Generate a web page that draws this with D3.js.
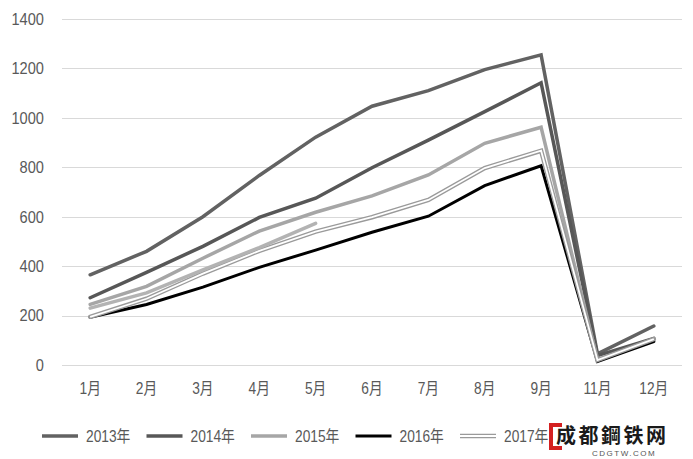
<!DOCTYPE html>
<html>
<head>
<meta charset="utf-8">
<script src="https://cdn.jsdelivr.net/npm/d3@7"></script>
<style>
html,body{margin:0;padding:0;background:#fff;}
svg{display:block;}
</style>
</head>
<body>
<svg id="chart" width="693" height="459"></svg>
<script>
const months = ["1月","2月","3月","4月","5月","6月","7月","8月","9月","11月","12月"];
const yTicks = [0,200,400,600,800,1000,1200,1400];
const seriesNames = ["2013年","2014年","2015年","2016年","2017年","2018年"];
const s2013 = [365, 460, 600, 767, 922, 1047, 1110, 1195, 1255, 45, 158];
const s2014 = [272, 375, 480, 597, 675, 798, 910, 1025, 1142, 38, 108];
const s2015 = [245, 318, 432, 542, 618, 684, 769, 897, 962, 20, 100];
const s2016 = [193, 245, 315, 395, 465, 537, 602, 726, 806, 14, 95];
const s2017 = [195, 268, 370, 462, 540, 598, 668, 797, 867, 20, 105];
const s2018 = [230, 292, 385, 475, 573];

const series = [
  {name: seriesNames[0], values: s2013, color: "#626262", width: 3.5},
  {name: seriesNames[1], values: s2014, color: "#575757", width: 3.5},
  {name: seriesNames[2], values: s2015, color: "#a6a6a6", width: 3.5},
  {name: seriesNames[3], values: s2016, color: "#000000", width: 3},
  {name: seriesNames[4], values: s2017, color: "#9a9a9a", width: 4.5, inner: "#ffffff", innerWidth: 1.8},
  {name: seriesNames[5], values: s2018, color: "#b3b3b3", width: 3.5, hiddenLegend: true}
];

const svg = d3.select("#chart");
const x = d3.scalePoint().domain(months).range([62, 682]).padding(0.5);
const y = d3.scaleLinear().domain([0, 1400]).range([365, 19]);

const FONT = "'Liberation Sans','Noto Sans CJK SC',sans-serif";
function label(g, tx, ty, str, anchor, size, fill) {
  return g.append("text")
    .attr("transform", `translate(${tx},${ty}) scale(0.86,1)`)
    .attr("text-anchor", anchor)
    .attr("dominant-baseline", "central")
    .attr("font-family", FONT)
    .attr("font-size", size)
    .attr("fill", fill)
    .text(str);
}

// gridlines
const grid = svg.append("g");
grid.selectAll("line").data(yTicks).join("line")
  .attr("x1", 62).attr("x2", 682)
  .attr("y1", d => Math.round(y(d)) + 0.5).attr("y2", d => Math.round(y(d)) + 0.5)
  .attr("stroke", "#d9d9d9").attr("stroke-width", 1);

// y labels
const yl = svg.append("g");
yTicks.forEach(t => label(yl, 44, y(t), String(t), "end", 17, "#595959"));

// x labels
const xl = svg.append("g");
months.forEach(m => label(xl, x(m), 388, m, "middle", 16, "#595959"));

// lines
const line = d3.line().x((d, i) => x(months[i])).y(d => y(d));
const lg = svg.append("g").attr("fill", "none");
series.forEach(s => {
  lg.append("path").attr("d", line(s.values))
    .attr("stroke", s.color).attr("stroke-width", s.width)
    .attr("stroke-linejoin", "miter").attr("stroke-linecap", "round");
  if (s.inner) {
    lg.append("path").attr("d", line(s.values))
      .attr("stroke", s.inner).attr("stroke-width", s.innerWidth)
      .attr("stroke-linejoin", "miter");
  }
});

// legend (the 2018 entry is hidden behind the watermark in the reference)
const leg = svg.append("g");
const legX0 = 42, legStep = 104.5, legY = 436;
series.filter(s => !s.hiddenLegend).forEach((s, i) => {
  const lx = legX0 + i * legStep;
  leg.append("line").attr("x1", lx).attr("x2", lx + 36).attr("y1", legY).attr("y2", legY)
    .attr("stroke", s.color).attr("stroke-width", s.width);
  if (s.inner) {
    leg.append("line").attr("x1", lx).attr("x2", lx + 36).attr("y1", legY).attr("y2", legY)
      .attr("stroke", s.inner).attr("stroke-width", s.innerWidth);
  }
  label(leg, lx + 44, legY, s.name, "start", 16, "#595959");
});

// watermark
const wm = svg.append("g");
wm.append("rect").attr("x", 549).attr("y", 423).attr("width", 124).attr("height", 36).attr("fill", "#ffffff");
wm.append("path").attr("d", "M562,425 L551,425 L551,448 L562,448")
  .attr("fill", "none").attr("stroke", "#d42020").attr("stroke-width", 4);
wm.append("text").attr("x", 556).attr("y", 443)
  .attr("font-family", "'Noto Sans CJK SC',sans-serif").attr("font-weight", "bold")
  .attr("font-size", 20).attr("fill", "#1a1a1a").attr("textLength", 110)
  .text("成都鋼铁网");
wm.append("text").attr("x", 592).attr("y", 456)
  .attr("font-family", "'Liberation Sans',sans-serif")
  .attr("font-size", 8).attr("fill", "#555").attr("letter-spacing", 1.5)
  .text("CDGTW.COM");
</script>
</body>
</html>
